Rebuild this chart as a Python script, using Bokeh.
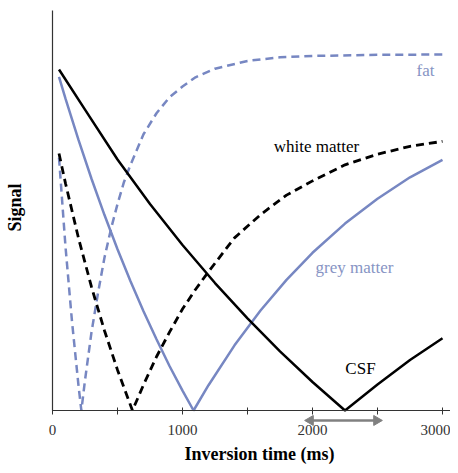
import math
from bokeh.plotting import figure
from bokeh.models import Range1d, FixedTicker, Label
from bokeh.embed import file_html
from bokeh.resources import INLINE

# ---- data ----
fat_ti = [50, 100, 150, 200, 222, 250, 300, 350, 400, 450, 500, 550, 600, 700, 800, 900, 1000,
          1100, 1250, 1500, 1750, 2000, 2500, 3000]
fat_sig = [0.71, 0.46, 0.25, 0.07, 0.0, 0.085, 0.22, 0.33, 0.43, 0.51, 0.58, 0.642, 0.69, 0.776,
           0.835, 0.88, 0.91, 0.936, 0.96, 0.982, 0.992, 0.996, 0.999, 1.0]

wm_ti = [50, 100, 200, 300, 400, 500, 615, 700, 800, 900, 1000, 1100, 1200, 1400, 1600, 1800,
         2000, 2250, 2500, 2750, 3000]
wm_sig = [0.722, 0.638, 0.484, 0.347, 0.224, 0.114, 0.0, 0.072, 0.151, 0.22, 0.285, 0.34, 0.39,
          0.485, 0.55, 0.605, 0.645, 0.69, 0.72, 0.742, 0.756]

gm_ti = [50, 100, 200, 300, 400, 500, 600, 700, 800, 900, 1000, 1085, 1200, 1400, 1600, 1800,
         2000, 2250, 2500, 2750, 3000]
gm_sig = [0.937, 0.876, 0.76, 0.651, 0.549, 0.453, 0.363, 0.279, 0.2, 0.125, 0.056, 0.0, 0.071,
          0.183, 0.281, 0.367, 0.443, 0.525, 0.595, 0.655, 0.704]

csf_ti = [50, 250, 500, 750, 1000, 1250, 1500, 1750, 2000, 2250, 2500, 2750, 3000]
csf_sig = [0.958, 0.845, 0.705, 0.58, 0.465, 0.358, 0.259, 0.166, 0.08, 0.0, 0.073, 0.142, 0.203]

# CSF null window marked by the double arrow (ms) and its level just below the axis
arrow_ti = [1946, 2531]
arrow_sig = -0.028

x_ticks = [0, 500, 1000, 1500, 2000, 2500, 3000]
x_tick_labels = {0: "0", 500: "", 1000: "1000", 1500: "", 2000: "2000", 2500: "", 3000: "3000"}

BLUE = "#7787c2"
LBLUE = "#8794c4"
GREY = "#808080"
AXIS = "#333333"
SERIF = "Liberation Serif"

Y_TOP = 1.1236
X_END = 3123
p = figure(width=450, height=465, output_backend="svg", toolbar_location=None,
           x_range=Range1d(-400, 3061.5), y_range=Range1d(-0.1545, 1.1517),
           min_border_left=0, min_border_right=0, min_border_top=0, min_border_bottom=0)
p.outline_line_color = None
p.xgrid.visible = False
p.ygrid.visible = False
p.background_fill_color = "white"
p.border_fill_color = "white"

# x axis, pinned at signal = 0
xa = p.xaxis[0]
xa.fixed_location = 0
xa.bounds = (0, X_END)
xa.ticker = FixedTicker(ticks=x_ticks)
xa.major_label_overrides = x_tick_labels
xa.minor_tick_line_color = None
xa.major_tick_in = 3
xa.major_tick_out = 4
xa.axis_line_color = AXIS
xa.axis_line_width = 1.2
xa.major_tick_line_color = AXIS
xa.major_label_text_font = SERIF
xa.major_label_text_font_size = "15px"
xa.major_label_text_color = "#333333"
xa.major_label_standoff = 11

# y axis, pinned at time = 0
ya = p.yaxis[0]
ya.fixed_location = 0
ya.bounds = (0, Y_TOP)
ya.ticker = FixedTicker(ticks=[])
ya.minor_tick_line_color = None
ya.major_tick_in = 0
ya.major_tick_out = 0
ya.axis_line_color = AXIS
ya.axis_line_width = 1.2

# axis titles
p.add_layout(Label(x=1592, y=-0.1236, text="Inversion time (ms)", text_font=SERIF,
                   text_font_style="bold", text_font_size="18px", text_color="black",
                   text_align="center", text_baseline="middle"))
p.add_layout(Label(x=-285, y=0.57, text="Signal", text_font=SERIF, angle=math.pi / 2,
                   text_font_style="bold", text_font_size="18px", text_color="black",
                   text_align="center", text_baseline="middle"))

# curves
p.line(fat_ti, fat_sig, line_color=BLUE, line_width=2.5, line_dash="8 5")
p.line(wm_ti, wm_sig, line_color="black", line_width=2.8, line_dash="8 5")
p.line(gm_ti, gm_sig, line_color=BLUE, line_width=2.5)
p.line(csf_ti, csf_sig, line_color="black", line_width=2.5)

# curve labels
def lab(txt, x, y, color):
    p.add_layout(Label(x=x, y=y, text=txt, text_font=SERIF, text_font_size="17px",
                       text_color=color, text_align="center", text_baseline="middle"))

lab("fat", 2869, 0.955, LBLUE)
lab("white matter", 2031, 0.742, "black")
lab("grey matter", 2323, 0.402, LBLUE)
lab("CSF", 2369, 0.118, "black")

# double-headed arrow below the axis
head_off = 38  # ms, half of the head length
p.segment(x0=[arrow_ti[0] + head_off], y0=[arrow_sig], x1=[arrow_ti[1] - head_off], y1=[arrow_sig],
          line_color=GREY, line_width=2.5)
p.scatter(x=[arrow_ti[0] + head_off, arrow_ti[1] - head_off], y=[arrow_sig, arrow_sig],
          marker="triangle", size=10, angle=[math.pi / 2, -math.pi / 2],
          fill_color=GREY, line_color=GREY)

open("out.html", "w").write(file_html(p, INLINE))
